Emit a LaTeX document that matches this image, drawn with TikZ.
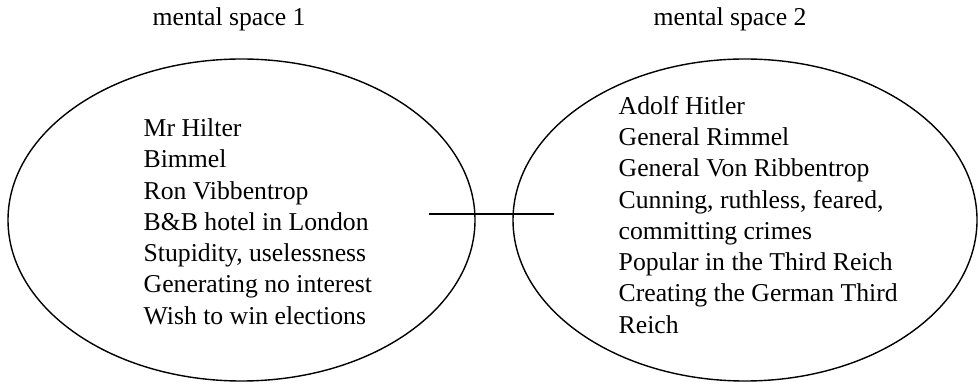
\documentclass[tikz,border=0pt]{standalone}
\usepackage{fontspec}
\setmainfont{Liberation Serif}
\usetikzlibrary{shapes.geometric}

\tikzset{every picture/.style={line width=0.7pt}}
\tikzset{
  spaceellipse/.style={draw, ellipse, inner sep=0pt},
  itemlist/.style={anchor=base west, align=left, inner sep=0pt, font=\fontsize{12.85}{15.6}\selectfont},
  spacetitle/.style={anchor=base west, inner sep=0pt, font=\fontsize{12.85}{15.6}\selectfont}
}

\begin{document}
\begin{tikzpicture}[x=0.5pt,y=0.5pt,yscale=-1,xscale=1]
\useasboundingbox (0,0) rectangle (978,384);

\node [spaceellipse, minimum width=233.5pt, minimum height=161pt] (space1) at (241.5,220) {};
\node [spaceellipse, minimum width=232pt, minimum height=161pt] (space2) at (745,220) {};

\node [spacetitle] (title1) at (152,26) {mental space 1};
\node [spacetitle] (title2) at (653,26) {mental space 2};

% base anchor sits on the last line
\node [itemlist] (items1) at (143,324) {Mr Hilter\\Bimmel\\Ron Vibbentrop\\B\&B hotel in London\\Stupidity, uselessness\\Generating no interest\\Wish to win elections};
\node [itemlist] (items2) at (618,333) {Adolf Hitler\\General Rimmel\\General Von Ribbentrop\\Cunning, ruthless, feared,\\committing crimes\\Popular in the Third Reich\\Creating the German Third\\Reich};

\coordinate (linkL) at (429,214);
\coordinate (linkR) at (554,214);
\draw [line width=0.75pt] (linkL) -- (linkR);

\end{tikzpicture}
\end{document}
